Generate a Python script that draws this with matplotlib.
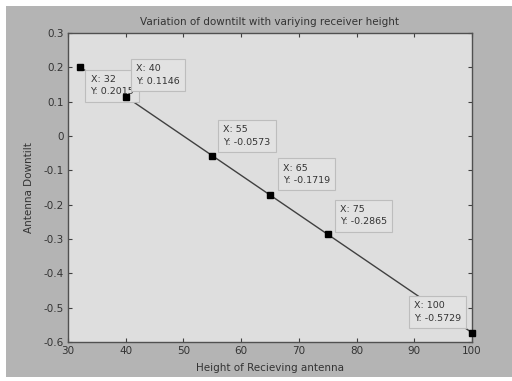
import matplotlib
matplotlib.use("Agg")
import matplotlib.pyplot as plt
from matplotlib.patches import Rectangle

heights = [32, 40, 55, 65, 75, 100]
downtilt = [0.2015, 0.1146, -0.0573, -0.1719, -0.2865, -0.5729]
tip_labels = ["X: 32\nY: 0.2015", "X: 40\nY: 0.1146", "X: 55\nY: -0.0573",
              "X: 65\nY: -0.1719", "X: 75\nY: -0.2865", "X: 100\nY: -0.5729"]
xticks = [30, 40, 50, 60, 70, 80, 90, 100]
yticks = [-0.6, -0.5, -0.4, -0.3, -0.2, -0.1, 0, 0.1, 0.2, 0.3]
ytick_labels = ["-0.6", "-0.5", "-0.4", "-0.3", "-0.2", "-0.1", "0", "0.1", "0.2", "0.3"]

W, H = 512, 381
fig = plt.figure(figsize=(W / 100, H / 100), dpi=100, facecolor="white")
fig.patches.append(Rectangle((6 / W, 4 / H), 1 - 6 / W, 1 - 10 / H,
                             transform=fig.transFigure, facecolor="#b4b4b4",
                             edgecolor="none", zorder=-10))

ax = fig.add_axes([68 / W, 1 - 342 / H, (472 - 68) / W, (342 - 33) / H])
ax.set_facecolor("#dedede")
ax.set_xlim(30, 100)
ax.set_ylim(-0.6, 0.3)

ax.plot(heights, downtilt, color="#404040", lw=1.0, zorder=2)

offsets = [(11, -8, "left", "top"), (10, 11, "left", "bottom"), (11, 9, "left", "bottom"),
           (13, 10, "left", "bottom"), (12, 8, "left", "bottom"), (-11, 10, "right", "bottom")]
for x, y, lab, (dx, dy, ha, va) in zip(heights, downtilt, tip_labels, offsets):
    ax.annotate(lab, (x, y), xytext=(dx, dy), textcoords="offset pixels",
                ha=ha, va=va, multialignment="left", fontsize=6.8, color="#333333",
                linespacing=1.5,
                bbox=dict(boxstyle="square,pad=0.55", facecolor="#e2e2e2",
                          edgecolor="#bdbdbd", lw=0.8), zorder=3)

ax.plot(heights, downtilt, linestyle="none", marker="s", ms=5,
        color="black", zorder=5, clip_on=False)

ax.set_xticks(xticks)
ax.set_yticks(yticks)
ax.set_yticklabels(ytick_labels)
ax.tick_params(direction="in", length=3, width=0.8, colors="#404040",
               labelcolor="#333333", labelsize=7.5, top=True, right=True, pad=3)
for s in ax.spines.values():
    s.set_color("#505050")
    s.set_linewidth(1.0)

ax.set_title("Variation of downtilt with variying receiver height",
             fontsize=7.5, color="#333333", pad=6)
ax.set_xlabel("Height of Recieving antenna", fontsize=7.5, color="#333333", labelpad=5)
ax.set_ylabel("Antenna Downtilt", fontsize=7.5, color="#333333", labelpad=7)

fig.savefig("out.png", dpi=100, facecolor="white")
